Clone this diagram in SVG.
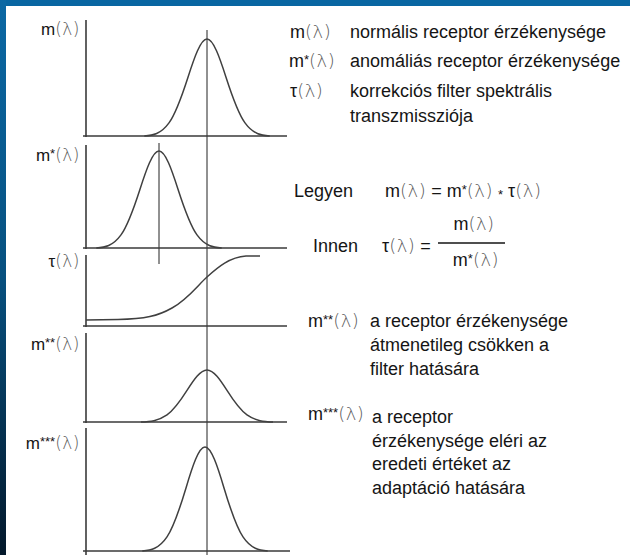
<svg xmlns="http://www.w3.org/2000/svg" width="630" height="555" viewBox="0 0 630 555">
<defs>
<linearGradient id="leftband" x1="0" y1="0" x2="0" y2="1">
<stop offset="0" stop-color="#0b68a4"/>
<stop offset="0.5" stop-color="#07507f"/>
<stop offset="1" stop-color="#03182b"/>
</linearGradient>
<style>
.ax{stroke:#3a3a3a;stroke-width:1.6;fill:none}
.cv{stroke:#404040;stroke-width:1.5;fill:none;stroke-linejoin:round}
.gl{stroke:#222;stroke-width:1;fill:none}
text{font-family:"Liberation Sans",Arial,sans-serif;fill:#151515}
.lb{font-size:17px;text-anchor:end}
.rt{font-size:18px}
.ls{fill:#5a5a5a;font-family:"DejaVu Sans",sans-serif;font-weight:300;letter-spacing:0.5px}
.sp{font-size:13px}
</style>
</defs>
<rect x="0" y="0" width="630" height="555" fill="#ffffff"/>
<rect x="0" y="0" width="630" height="6" fill="#0866a2"/>
<rect x="0" y="0" width="6" height="555" fill="url(#leftband)"/>

<g id="guides">
<line class="gl" x1="207" y1="30" x2="207" y2="555"/>
<line class="gl" x1="159" y1="143" x2="159" y2="264"/>
</g>

<g id="panel-m">
<line class="ax" x1="86" y1="20" x2="86" y2="137"/>
<line class="ax" x1="83" y1="136" x2="287" y2="136"/>
<path class="cv" d="M144.3,136 C152.53,135.4 160.77,134.25 169,122.88 C175.33,114.13 181.67,96.78 188,77.17 C194.33,57.56 200.67,39 207,39 C213.33,39 219.67,57.56 226,77.17 C232.33,96.78 238.67,114.13 245,122.88 C253.23,134.25 261.47,135.4 269.7,136"/>
<text class="lb" x="80" y="35">m<tspan class="ls">(λ)</tspan></text>
</g>

<g id="panel-mstar">
<line class="ax" x1="86" y1="145" x2="86" y2="249"/>
<line class="ax" x1="83" y1="248" x2="287" y2="248"/>
<path class="cv" d="M96.3,248 C104.53,247.4 112.77,246.25 121,234.88 C127.33,226.13 133.67,208.78 140,189.17 C146.33,169.56 152.67,151 159,151 C165.33,151 171.67,169.56 178,189.17 C184.33,208.78 190.67,226.13 197,234.88 C205.23,246.25 213.47,247.4 221.7,248"/>
<text class="lb" x="80" y="161">m<tspan class="sp" dy="-3">*</tspan><tspan class="ls" dy="3">(λ)</tspan></text>
</g>

<g id="panel-tau">
<line class="ax" x1="86" y1="255" x2="86" y2="327"/>
<line class="ax" x1="83" y1="326" x2="287" y2="326"/>
<path class="cv" d="M86,320 L118,319.5 C145,319 158,316 172,308 C188,299 198,285 207,277 C218,267 230,257 246,256 L260,256"/>
<text class="lb" x="80" y="267">τ<tspan class="ls">(λ)</tspan></text>
</g>

<g id="panel-m2star">
<line class="ax" x1="86" y1="333" x2="86" y2="423"/>
<line class="ax" x1="83" y1="422" x2="287" y2="422"/>
<path class="cv" d="M141,422 C149.67,421.68 158.33,421.06 167,414.96 C173.67,410.27 180.33,400.98 187,390.46 C193.67,379.95 200.33,370 207,370 C213.67,370 220.33,379.95 227,390.46 C233.67,400.98 240.33,410.27 247,414.96 C255.67,421.06 264.33,421.68 273,422"/>
<text class="lb" x="80" y="350">m<tspan class="sp" dy="-3">**</tspan><tspan class="ls" dy="3">(λ)</tspan></text>
</g>

<g id="panel-m3star">
<line class="ax" x1="86" y1="428" x2="86" y2="555"/>
<line class="ax" x1="83" y1="551" x2="290" y2="551"/>
<path class="cv" d="M142.3,551 C150.53,550.36 158.77,549.13 167,536.93 C173.33,527.55 179.67,508.95 186,487.92 C192.33,466.9 198.67,447 205,447 C211.33,447 217.67,466.9 224,487.92 C230.33,508.95 236.67,527.55 243,536.93 C251.23,549.13 259.47,550.36 267.7,551"/>
<text class="lb" x="80" y="449">m<tspan class="sp" dy="-3">***</tspan><tspan class="ls" dy="3">(λ)</tspan></text>
</g>

<g id="legend">
<text class="rt" x="290" y="38">m<tspan class="ls">(λ)</tspan></text>
<text class="rt" x="350" y="38">normális receptor érzékenysége</text>
<text class="rt" x="289" y="67">m<tspan class="sp" dy="-3">*</tspan><tspan class="ls" dy="3">(λ)</tspan></text>
<text class="rt" x="350" y="67">anomáliás receptor érzékenysége</text>
<text class="rt" x="290" y="97">τ<tspan class="ls">(λ)</tspan></text>
<text class="rt" x="350" y="97">korrekciós filter spektrális</text>
<text class="rt" x="350" y="122">transzmissziója</text>
</g>

<g id="equations">
<text class="rt" x="294" y="197">Legyen</text>
<text class="rt" x="385" y="197">m<tspan class="ls">(λ)</tspan> = m<tspan class="sp" dy="-3">*</tspan><tspan class="ls" dy="3">(λ)</tspan> <tspan class="sp" dy="2">*</tspan> <tspan dy="-2">τ</tspan><tspan class="ls">(λ)</tspan></text>
<text class="rt" x="313" y="252">Innen</text>
<text class="rt" x="382" y="252">τ<tspan class="ls">(λ)</tspan> =</text>
<line x1="438" y1="243" x2="505" y2="243" stroke="#151515" stroke-width="1.5"/>
<text class="rt" x="474" y="230" text-anchor="middle">m<tspan class="ls">(λ)</tspan></text>
<text class="rt" x="476" y="266" text-anchor="middle">m<tspan class="sp" dy="-3">*</tspan><tspan class="ls" dy="3">(λ)</tspan></text>
</g>

<g id="note-m2">
<text class="rt" x="308" y="327">m<tspan class="sp" dy="-3">**</tspan><tspan class="ls" dy="3">(λ)</tspan></text>
<text class="rt" x="370" y="327">a receptor érzékenysége</text>
<text class="rt" x="370" y="351">átmenetileg csökken a</text>
<text class="rt" x="370" y="375">filter hatására</text>
</g>

<g id="note-m3">
<text class="rt" x="308" y="420">m<tspan class="sp" dy="-3">***</tspan><tspan class="ls" dy="3">(λ)</tspan></text>
<text class="rt" x="372" y="423">a receptor</text>
<text class="rt" x="372" y="447">érzékenysége eléri az</text>
<text class="rt" x="372" y="470">eredeti értéket az</text>
<text class="rt" x="372" y="494">adaptáció hatására</text>
</g>
</svg>
